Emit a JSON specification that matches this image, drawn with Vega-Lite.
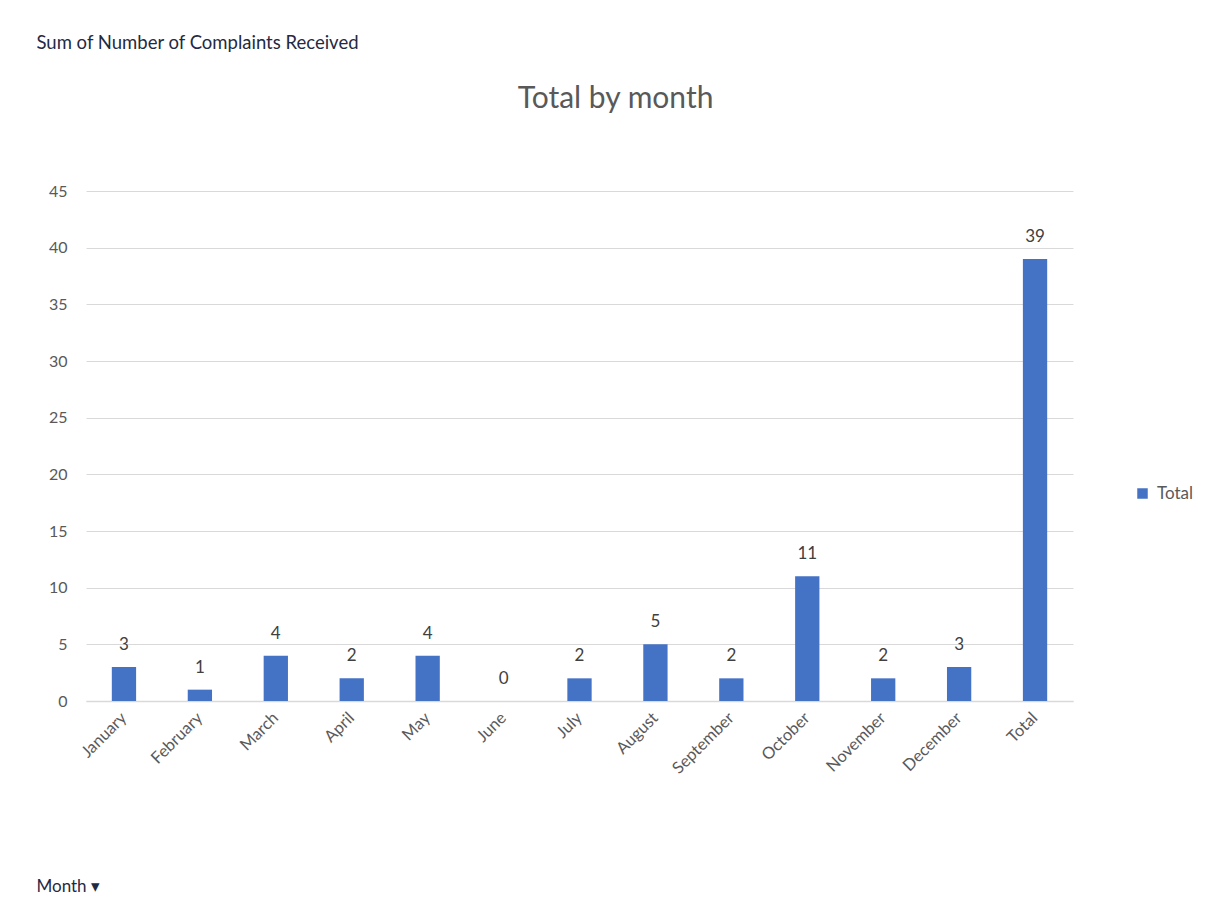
{
  "$schema": "https://vega.github.io/schema/vega-lite/v6.json",
  "width": 987,
  "height": 510,
  "autosize": {"type": "none"},
  "padding": {"left": 86, "top": 191, "right": 140, "bottom": 209},
  "background": "white",
  "config": {
    "font": "Lato",
    "view": {"stroke": null}
  },
  "title": {
    "text": "Total by month",
    "fontSize": 30,
    "fontWeight": "normal",
    "color": "#595959",
    "anchor": "middle",
    "baseline": "alphabetic",
    "dx": 36,
    "offset": -105
  },
  "data": {
    "values": [
      {"month": "January", "total": 3},
      {"month": "February", "total": 1},
      {"month": "March", "total": 4},
      {"month": "April", "total": 2},
      {"month": "May", "total": 4},
      {"month": "June", "total": 0},
      {"month": "July", "total": 2},
      {"month": "August", "total": 5},
      {"month": "September", "total": 2},
      {"month": "October", "total": 11},
      {"month": "November", "total": 2},
      {"month": "December", "total": 3},
      {"month": "Total", "total": 39}
    ]
  },
  "encoding": {
    "x": {
      "field": "month",
      "type": "nominal",
      "sort": null,
      "scale": {"paddingInner": 0.68, "paddingOuter": 0.34},
      "axis": {
        "title": "Month ▾",
        "titleFontSize": 17,
        "titleFontWeight": "normal",
        "titleColor": "#1f2a44",
        "titleAlign": "left",
        "titleBaseline": "middle",
        "titleAngle": 0,
        "titleX": -50,
        "titleY": 185,
        "labelAngle": -45,
        "labelAlign": "right",
        "labelBaseline": "middle",
        "labelFontSize": 16.5,
        "labelColor": "#595959",
        "labelPadding": 14,
        "ticks": false,
        "domainColor": "#d9d9d9",
        "domainWidth": 1.5,
        "grid": false
      }
    },
    "y": {
      "field": "total",
      "type": "quantitative",
      "scale": {"domain": [0, 45]},
      "axis": {
        "values": [0, 5, 10, 15, 20, 25, 30, 35, 40, 45],
        "title": "Sum of Number of Complaints Received",
        "titleFontSize": 18.5,
        "titleFontWeight": "normal",
        "titleColor": "#1f2a44",
        "titleAngle": 0,
        "titleAlign": "left",
        "titleBaseline": "middle",
        "titleX": -50,
        "titleY": -149,
        "labelFontSize": 16,
        "labelColor": "#595959",
        "labelPadding": 19,
        "ticks": false,
        "domain": false,
        "gridColor": "#d9d9d9",
        "gridWidth": 1.2
      }
    }
  },
  "layer": [
    {
      "mark": {"type": "bar", "color": "#4472C4"},
      "encoding": {
        "color": {
          "datum": "Total",
          "type": "nominal",
          "scale": {"range": ["#4472C4"]},
          "legend": {
            "title": null,
            "orient": "none",
            "legendX": 1048,
            "legendY": 294,
            "symbolType": "square",
            "symbolSize": 110,
            "symbolStrokeWidth": 0,
            "labelFontSize": 17,
            "labelColor": "#595959",
            "labelOffset": 6
          }
        }
      }
    },
    {
      "mark": {
        "type": "text",
        "baseline": "bottom",
        "dy": -13,
        "fontSize": 17,
        "color": "#404040"
      },
      "encoding": {
        "text": {"field": "total", "type": "quantitative"}
      }
    }
  ]
}
